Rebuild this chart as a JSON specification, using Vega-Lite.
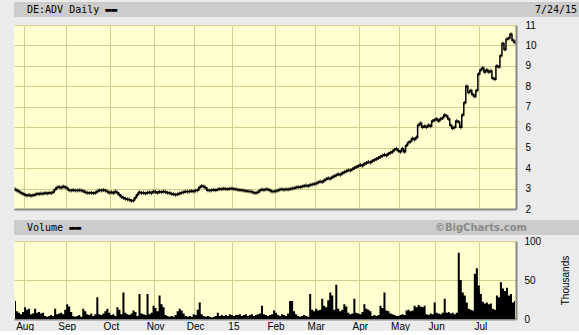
{
"$schema": "https://vega.github.io/schema/vega-lite/v6.json",
"background": "#ebebeb",
"padding": {"left": 2, "top": 2, "right": 2, "bottom": 0},
"spacing": 6,
"config": {"view": {"stroke": null}, "axis": {"labelFont": "Liberation Sans", "labelFontSize": 10, "labelColor": "#000", "titleFont": "Liberation Sans", "titleFontSize": 10, "titleFontWeight": "normal", "titleColor": "#000"}},
"datasets": {"p": [
{"d":"2014-07-25","c":2.96,"v":23},{"d":"2014-07-28","c":2.9,"v":10},{"d":"2014-07-29","c":2.85,"v":8},{"d":"2014-07-30","c":2.8,"v":6},{"d":"2014-07-31","c":2.75,"v":9},
{"d":"2014-08-01","c":2.7,"v":15},{"d":"2014-08-04","c":2.66,"v":12},{"d":"2014-08-05","c":2.68,"v":13},{"d":"2014-08-06","c":2.65,"v":6},{"d":"2014-08-07","c":2.67,"v":7},
{"d":"2014-08-08","c":2.7,"v":13},{"d":"2014-08-11","c":2.75,"v":8},{"d":"2014-08-12","c":2.73,"v":9},{"d":"2014-08-13","c":2.76,"v":7},{"d":"2014-08-14","c":2.75,"v":8},
{"d":"2014-08-15","c":2.78,"v":4},{"d":"2014-08-18","c":2.76,"v":3},{"d":"2014-08-19","c":2.8,"v":4},{"d":"2014-08-20","c":2.78,"v":5},{"d":"2014-08-21","c":2.82,"v":4},
{"d":"2014-08-22","c":2.95,"v":13},{"d":"2014-08-25","c":3.05,"v":6},{"d":"2014-08-26","c":3.08,"v":7},{"d":"2014-08-27","c":3.04,"v":8},{"d":"2014-08-28","c":3.1,"v":6},
{"d":"2014-08-29","c":3.06,"v":12},{"d":"2014-09-01","c":3.02,"v":19},{"d":"2014-09-02","c":2.92,"v":16},{"d":"2014-09-03","c":2.9,"v":9},{"d":"2014-09-04","c":2.93,"v":4},
{"d":"2014-09-05","c":2.91,"v":3},{"d":"2014-09-08","c":2.9,"v":4},{"d":"2014-09-09","c":2.92,"v":5},{"d":"2014-09-10","c":2.9,"v":3},{"d":"2014-09-11","c":2.88,"v":13},
{"d":"2014-09-12","c":2.82,"v":10},{"d":"2014-09-15","c":2.8,"v":6},{"d":"2014-09-16","c":2.78,"v":5},{"d":"2014-09-17","c":2.8,"v":7},{"d":"2014-09-18","c":2.77,"v":4},
{"d":"2014-09-19","c":2.8,"v":6},{"d":"2014-09-22","c":2.85,"v":28},{"d":"2014-09-23","c":2.92,"v":6},{"d":"2014-09-24","c":2.9,"v":5},{"d":"2014-09-25","c":2.93,"v":7},
{"d":"2014-09-26","c":2.91,"v":10},{"d":"2014-09-29","c":2.86,"v":13},{"d":"2014-09-30","c":2.8,"v":8},{"d":"2014-10-01","c":2.82,"v":5},{"d":"2014-10-02","c":2.78,"v":6},
{"d":"2014-10-06","c":2.85,"v":4},{"d":"2014-10-07","c":2.8,"v":15},{"d":"2014-10-08","c":2.7,"v":12},{"d":"2014-10-09","c":2.6,"v":6},{"d":"2014-10-10","c":2.55,"v":34},
{"d":"2014-10-13","c":2.5,"v":8},{"d":"2014-10-14","c":2.48,"v":6},{"d":"2014-10-15","c":2.45,"v":5},{"d":"2014-10-16","c":2.4,"v":7},{"d":"2014-10-17","c":2.42,"v":11},
{"d":"2014-10-20","c":2.55,"v":9},{"d":"2014-10-21","c":2.7,"v":4},{"d":"2014-10-22","c":2.82,"v":32},{"d":"2014-10-23","c":2.78,"v":7},{"d":"2014-10-24","c":2.8,"v":6},
{"d":"2014-10-27","c":2.76,"v":5},{"d":"2014-10-28","c":2.8,"v":32},{"d":"2014-10-29","c":2.82,"v":6},{"d":"2014-10-30","c":2.78,"v":8},{"d":"2014-10-31","c":2.85,"v":17},
{"d":"2014-11-03","c":2.83,"v":14},{"d":"2014-11-04","c":2.8,"v":10},{"d":"2014-11-05","c":2.84,"v":30},{"d":"2014-11-06","c":2.82,"v":19},{"d":"2014-11-07","c":2.86,"v":15},
{"d":"2014-11-10","c":2.83,"v":5},{"d":"2014-11-11","c":2.8,"v":4},{"d":"2014-11-12","c":2.78,"v":3},{"d":"2014-11-13","c":2.75,"v":4},{"d":"2014-11-14","c":2.72,"v":3},
{"d":"2014-11-17","c":2.7,"v":5},{"d":"2014-11-18","c":2.72,"v":10},{"d":"2014-11-19","c":2.76,"v":13},{"d":"2014-11-20","c":2.8,"v":11},{"d":"2014-11-21","c":2.82,"v":7},
{"d":"2014-11-24","c":2.85,"v":4},{"d":"2014-11-25","c":2.84,"v":3},{"d":"2014-11-26","c":2.86,"v":4},{"d":"2014-11-27","c":2.88,"v":3},{"d":"2014-11-28","c":2.86,"v":6},
{"d":"2014-12-01","c":2.9,"v":5},{"d":"2014-12-02","c":2.92,"v":12},{"d":"2014-12-03","c":3.05,"v":21},{"d":"2014-12-04","c":3.12,"v":6},{"d":"2014-12-05","c":3.1,"v":4},
{"d":"2014-12-08","c":3.04,"v":3},{"d":"2014-12-09","c":2.92,"v":4},{"d":"2014-12-10","c":2.9,"v":3},{"d":"2014-12-11","c":2.92,"v":2},{"d":"2014-12-12","c":2.94,"v":3},
{"d":"2014-12-15","c":2.92,"v":4},{"d":"2014-12-16","c":2.95,"v":8},{"d":"2014-12-17","c":2.98,"v":4},{"d":"2014-12-18","c":2.96,"v":5},{"d":"2014-12-19","c":3.0,"v":4},
{"d":"2014-12-22","c":2.98,"v":5},{"d":"2014-12-23","c":2.97,"v":4},{"d":"2014-12-29","c":2.99,"v":6},{"d":"2014-12-30","c":3.0,"v":5},{"d":"2015-01-02","c":2.98,"v":4},
{"d":"2015-01-05","c":2.96,"v":5},{"d":"2015-01-06","c":2.94,"v":5},{"d":"2015-01-07","c":2.93,"v":6},{"d":"2015-01-08","c":2.92,"v":4},{"d":"2015-01-09","c":2.9,"v":5},
{"d":"2015-01-12","c":2.88,"v":6},{"d":"2015-01-13","c":2.87,"v":4},{"d":"2015-01-14","c":2.86,"v":5},{"d":"2015-01-15","c":2.84,"v":6},{"d":"2015-01-16","c":2.8,"v":4},
{"d":"2015-01-19","c":2.78,"v":5},{"d":"2015-01-20","c":2.82,"v":6},{"d":"2015-01-21","c":2.9,"v":7},{"d":"2015-01-22","c":2.95,"v":17},{"d":"2015-01-23","c":2.93,"v":6},
{"d":"2015-01-26","c":2.97,"v":5},{"d":"2015-01-27","c":2.95,"v":4},{"d":"2015-01-28","c":2.92,"v":5},{"d":"2015-01-29","c":2.86,"v":6},{"d":"2015-01-30","c":2.85,"v":11},
{"d":"2015-02-02","c":2.88,"v":8},{"d":"2015-02-03","c":2.9,"v":5},{"d":"2015-02-04","c":2.95,"v":4},{"d":"2015-02-05","c":2.96,"v":6},{"d":"2015-02-06","c":2.94,"v":5},
{"d":"2015-02-09","c":2.97,"v":4},{"d":"2015-02-10","c":2.95,"v":7},{"d":"2015-02-11","c":2.98,"v":23},{"d":"2015-02-12","c":3.0,"v":23},{"d":"2015-02-13","c":3.02,"v":10},
{"d":"2015-02-16","c":3.05,"v":6},{"d":"2015-02-17","c":3.08,"v":4},{"d":"2015-02-18","c":3.06,"v":3},{"d":"2015-02-19","c":3.1,"v":4},{"d":"2015-02-20","c":3.12,"v":5},
{"d":"2015-02-23","c":3.15,"v":4},{"d":"2015-02-24","c":3.13,"v":3},{"d":"2015-02-25","c":3.18,"v":32},{"d":"2015-02-26","c":3.2,"v":12},{"d":"2015-02-27","c":3.22,"v":10},
{"d":"2015-03-02","c":3.25,"v":13},{"d":"2015-03-03","c":3.3,"v":11},{"d":"2015-03-04","c":3.35,"v":12},{"d":"2015-03-05","c":3.32,"v":26},{"d":"2015-03-06","c":3.4,"v":17},
{"d":"2015-03-09","c":3.45,"v":15},{"d":"2015-03-10","c":3.5,"v":24},{"d":"2015-03-11","c":3.48,"v":34},{"d":"2015-03-12","c":3.55,"v":30},{"d":"2015-03-13","c":3.6,"v":12},
{"d":"2015-03-16","c":3.65,"v":44},{"d":"2015-03-17","c":3.7,"v":13},{"d":"2015-03-18","c":3.68,"v":10},{"d":"2015-03-19","c":3.75,"v":12},{"d":"2015-03-20","c":3.8,"v":19},
{"d":"2015-03-23","c":3.85,"v":16},{"d":"2015-03-24","c":3.9,"v":8},{"d":"2015-03-25","c":3.88,"v":6},{"d":"2015-03-26","c":3.95,"v":7},{"d":"2015-03-27","c":4.0,"v":26},
{"d":"2015-03-30","c":4.05,"v":8},{"d":"2015-03-31","c":4.1,"v":7},{"d":"2015-04-01","c":4.15,"v":6},{"d":"2015-04-02","c":4.12,"v":9},{"d":"2015-04-07","c":4.2,"v":19},
{"d":"2015-04-08","c":4.25,"v":13},{"d":"2015-04-09","c":4.3,"v":12},{"d":"2015-04-10","c":4.28,"v":10},{"d":"2015-04-13","c":4.35,"v":4},{"d":"2015-04-14","c":4.4,"v":5},
{"d":"2015-04-15","c":4.45,"v":4},{"d":"2015-04-16","c":4.5,"v":5},{"d":"2015-04-17","c":4.55,"v":17},{"d":"2015-04-20","c":4.6,"v":14},{"d":"2015-04-21","c":4.65,"v":34},
{"d":"2015-04-22","c":4.62,"v":11},{"d":"2015-04-23","c":4.7,"v":10},{"d":"2015-04-24","c":4.75,"v":7},{"d":"2015-04-27","c":4.8,"v":6},{"d":"2015-04-28","c":4.9,"v":5},
{"d":"2015-04-29","c":4.95,"v":4},{"d":"2015-04-30","c":4.85,"v":4},{"d":"2015-05-04","c":4.8,"v":5},{"d":"2015-05-05","c":4.95,"v":6},{"d":"2015-05-06","c":4.8,"v":5},
{"d":"2015-05-07","c":5.1,"v":11},{"d":"2015-05-08","c":5.25,"v":12},{"d":"2015-05-11","c":5.3,"v":10},{"d":"2015-05-12","c":5.45,"v":11},{"d":"2015-05-13","c":5.4,"v":17},
{"d":"2015-05-15","c":5.5,"v":15},{"d":"2015-05-18","c":6.1,"v":18},{"d":"2015-05-19","c":6.2,"v":16},{"d":"2015-05-20","c":6.0,"v":15},{"d":"2015-05-21","c":6.05,"v":17},
{"d":"2015-05-22","c":6.0,"v":6},{"d":"2015-05-26","c":6.1,"v":5},{"d":"2015-05-27","c":6.05,"v":7},{"d":"2015-05-28","c":6.3,"v":6},{"d":"2015-05-29","c":6.35,"v":21},
{"d":"2015-06-01","c":6.4,"v":8},{"d":"2015-06-02","c":6.3,"v":7},{"d":"2015-06-03","c":6.4,"v":6},{"d":"2015-06-04","c":6.45,"v":8},{"d":"2015-06-05","c":6.6,"v":26},
{"d":"2015-06-08","c":6.55,"v":8},{"d":"2015-06-09","c":6.4,"v":9},{"d":"2015-06-10","c":6.1,"v":7},{"d":"2015-06-11","c":5.95,"v":8},{"d":"2015-06-12","c":6.0,"v":6},
{"d":"2015-06-15","c":6.3,"v":8},{"d":"2015-06-16","c":6.25,"v":85},{"d":"2015-06-17","c":6.0,"v":50},{"d":"2015-06-18","c":6.6,"v":34},{"d":"2015-06-19","c":7.2,"v":30},
{"d":"2015-06-22","c":8.0,"v":21},{"d":"2015-06-23","c":7.7,"v":13},{"d":"2015-06-24","c":7.8,"v":12},{"d":"2015-06-25","c":7.6,"v":11},{"d":"2015-06-26","c":7.5,"v":58},
{"d":"2015-06-29","c":7.8,"v":65},{"d":"2015-06-30","c":8.6,"v":43},{"d":"2015-07-01","c":8.8,"v":32},{"d":"2015-07-02","c":8.9,"v":22},{"d":"2015-07-03","c":8.7,"v":20},
{"d":"2015-07-06","c":8.8,"v":21},{"d":"2015-07-07","c":8.7,"v":19},{"d":"2015-07-08","c":8.75,"v":20},{"d":"2015-07-09","c":8.4,"v":13},{"d":"2015-07-10","c":8.35,"v":12},
{"d":"2015-07-13","c":9.0,"v":30},{"d":"2015-07-14","c":8.95,"v":28},{"d":"2015-07-15","c":9.5,"v":47},{"d":"2015-07-16","c":10.1,"v":39},{"d":"2015-07-17","c":9.8,"v":36},
{"d":"2015-07-20","c":10.3,"v":40},{"d":"2015-07-21","c":10.35,"v":30},{"d":"2015-07-22","c":10.55,"v":32},{"d":"2015-07-23","c":10.25,"v":21},{"d":"2015-07-24","c":10.15,"v":23}
]},
"vconcat": [
{"spacing": 3, "vconcat": [
 {"width": 575, "height": 15, "view": {"fill": "#cccccc", "stroke": null},
  "data": {"values": [{}]},
  "layer": [
   {"mark": {"type": "text", "align": "left", "baseline": "middle", "font": "DejaVu Sans Mono", "fontSize": 10, "color": "#000"},
    "encoding": {"x": {"datum": "a", "type": "nominal", "scale": {"type": "point", "domain": ["a", "b"], "range": [13, 521], "padding": 0}, "axis": null}, "text": {"value": "DE:ADV Daily ▬▬"}}},
   {"mark": {"type": "text", "align": "left", "baseline": "middle", "font": "DejaVu Sans Mono", "fontSize": 10, "color": "#000"},
    "encoding": {"x": {"datum": "b", "type": "nominal"}, "text": {"value": "7/24/15"}}}
  ]},
 {"width": 502, "height": 184, "view": {"fill": "#ffffd0", "stroke": null},
  "data": {"name": "p"},
  "encoding": {"x": {"field": "d", "type": "ordinal", "scale": {"type": "band", "paddingInner": 0, "paddingOuter": 0},
    "axis": {"orient": "bottom", "values": ["2014-08-01","2014-09-01","2014-10-01","2014-11-03","2014-12-01","2015-01-02","2015-02-02","2015-03-02","2015-04-01","2015-05-04","2015-06-01","2015-07-01"], "bandPosition": 0, "labels": false, "ticks": false, "tickSize": 0, "domain": true, "domainColor": "#888888", "domainWidth": 2, "grid": true, "gridColor": "#d2cf8e", "gridOpacity": 1, "title": null}}},
  "layer": [
   {"mark": {"type": "line", "color": "#000", "strokeWidth": 1.5, "interpolate": "step"},
    "encoding": {"y": {"field": "c", "type": "quantitative", "scale": {"domain": [2, 11], "nice": false, "zero": false},
      "axis": {"orient": "right", "values": [2,3,4,5,6,7,8,9,10,11], "ticks": false, "tickSize": 0, "labelPadding": 9, "labelAlign": "left", "domain": true, "domainColor": "#888888", "domainWidth": 2, "grid": true, "gridColor": "#d2cf8e", "gridOpacity": 1, "title": null}}}},
   {"mark": {"type": "tick", "orient": "vertical", "size": 4, "thickness": 1, "color": "#000", "opacity": 0.8},
    "encoding": {"y": {"field": "c", "type": "quantitative", "axis": null}}},
   {"mark": {"type": "line", "opacity": 0},
    "encoding": {"y": {"field": "c", "type": "quantitative", "axis": {"orient": "left", "values": [2, 11], "labels": false, "domain": false, "grid": false, "ticks": true, "tickSize": 12, "tickOpacity": 0, "title": null}}}}
  ],
  "resolve": {"axis": {"y": "independent"}}}
]},
{"spacing": 1, "vconcat": [
 {"width": 575, "height": 15, "view": {"fill": "#cccccc", "stroke": null},
  "data": {"values": [{}]},
  "layer": [
   {"mark": {"type": "text", "align": "left", "baseline": "middle", "font": "DejaVu Sans Mono", "fontSize": 10, "color": "#000"},
    "encoding": {"x": {"datum": "a", "type": "nominal", "scale": {"type": "point", "domain": ["a", "b"], "range": [13, 513], "padding": 0}, "axis": null}, "text": {"value": "Volume ▬▬"}}},
   {"mark": {"type": "text", "align": "right", "baseline": "middle", "font": "DejaVu Sans", "fontWeight": "bold", "fontSize": 10, "color": "#8a8a8a"},
    "encoding": {"x": {"datum": "b", "type": "nominal"}, "text": {"value": "©BigCharts.com"}}}
  ]},
 {"width": 502, "height": 78, "view": {"fill": "#ffffd0", "stroke": null},
  "data": {"name": "p"},
  "encoding": {"x": {"field": "d", "type": "ordinal", "scale": {"type": "band", "paddingInner": 0, "paddingOuter": 0},
    "axis": {"orient": "bottom", "values": ["2014-08-01","2014-09-01","2014-10-01","2014-11-03","2014-12-01","2015-01-02","2015-02-02","2015-03-02","2015-04-01","2015-05-04","2015-06-01","2015-07-01"], "bandPosition": 0, "labelExpr": "datum.value == '2015-01-02' ? '15' : utcFormat(toDate(datum.value), '%b')", "labelAngle": 0, "labelPadding": 2, "ticks": false, "tickSize": 0, "domain": true, "domainColor": "#888888", "domainWidth": 2, "grid": true, "gridColor": "#d2cf8e", "gridOpacity": 1, "title": null}}},
  "layer": [
   {"mark": {"type": "area", "color": "#000", "interpolate": "step", "opacity": 1},
    "encoding": {"y": {"field": "v", "type": "quantitative", "scale": {"domain": [0, 100], "nice": false},
      "axis": {"orient": "right", "values": [0, 50, 100], "ticks": false, "tickSize": 0, "labelPadding": 8, "labelAlign": "left", "domain": true, "domainColor": "#888888", "domainWidth": 2, "grid": true, "gridColor": "#d2cf8e", "gridOpacity": 1, "title": "Thousands", "titleAngle": 270, "titlePadding": 30}}}},
   {"mark": {"type": "line", "opacity": 0},
    "encoding": {"y": {"field": "v", "type": "quantitative", "axis": {"orient": "left", "values": [0, 100], "labels": false, "domain": false, "grid": false, "ticks": true, "tickSize": 12, "tickOpacity": 0, "title": null}}}}
  ],
  "resolve": {"axis": {"y": "independent"}}}
]}
]
}
